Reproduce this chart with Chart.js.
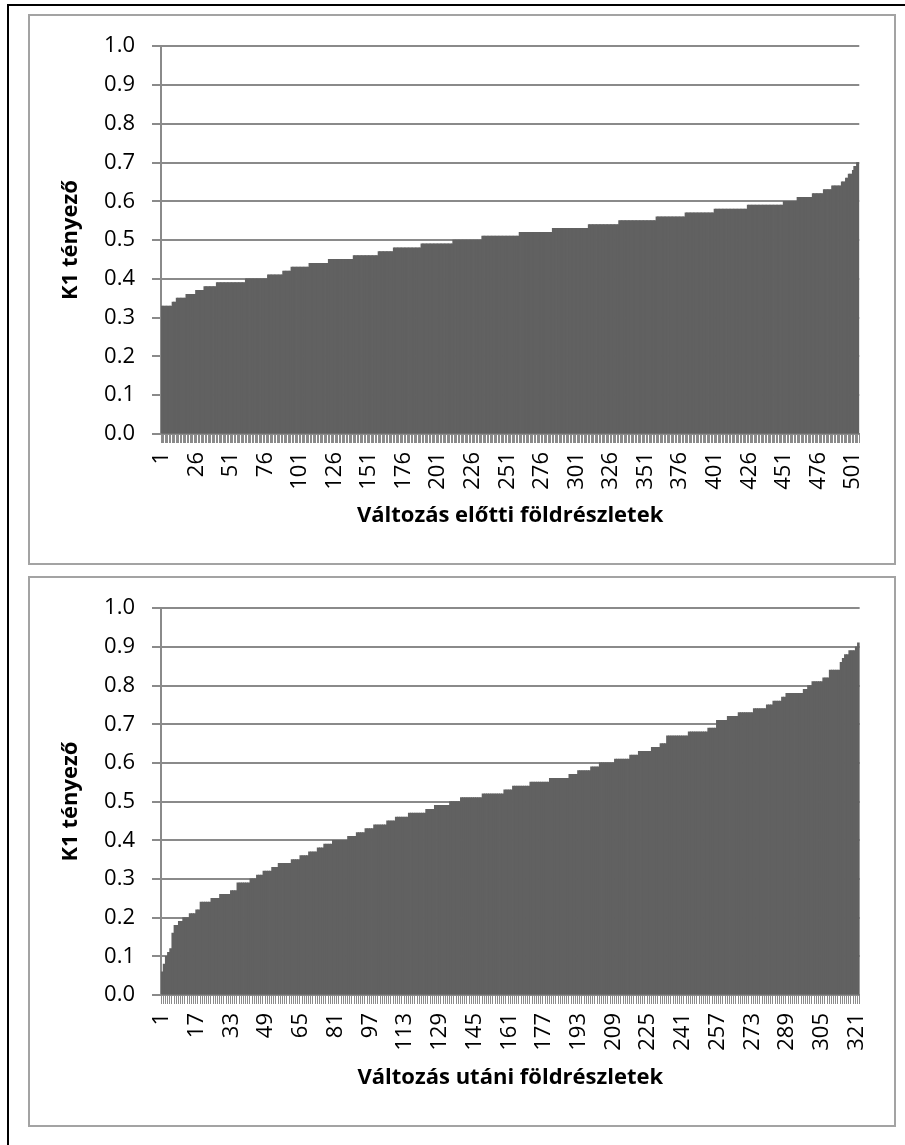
<!DOCTYPE html>
<html><head><meta charset="utf-8">
<script src="https://cdn.jsdelivr.net/npm/chart.js@4/dist/chart.umd.min.js"></script>
<style>
html,body{margin:0;padding:0;background:#fff;width:905px;height:1145px;overflow:hidden;position:relative}
#frame{position:absolute;left:7px;top:4px;width:905px;height:1145px;border:2px solid #000;box-sizing:border-box}
.box{position:absolute;left:28px;width:868px;height:551px;border:2px solid #a3a3a3;box-sizing:border-box;background:#fff}
.box canvas{position:absolute;left:0;top:0}
</style></head><body>
<div id="frame"></div>
<div class="box" style="top:14px"><canvas id="c1" width="864" height="547"></canvas></div>
<div class="box" style="top:576px"><canvas id="c2" width="864" height="547"></canvas></div>
<script>
// Top chart: sorted K1 values (run-length: level -> number of parcels)
const topLevels = [0.33,0.34,0.35,0.36,0.37,0.38,0.39,0.40,0.41,0.42,0.43,0.44,0.45,0.46,0.47,0.48,0.49,0.50,0.51,0.52,0.53,0.54,0.55,0.56,0.57,0.58,0.59,0.60,0.61,0.62,0.63,0.64,0.65,0.66,0.67,0.68,0.69,0.70];
const topCounts = [8,3,7,7,6,9,21,16,11,6,13,14,18,18,11,20,23,21,27,24,26,22,27,21,21,24,26,10,11,8,6,7,3,2,3,1,2,2];
const topTickLabels = ['1','26','51','76','101','126','151','176','201','226','251','276','301','326','351','376','401','426','451','476','501'];
const topXTitle = 'Változás előtti földrészletek';

// Bottom chart
const botLevels = [0.06,0.08,0.10,0.11,0.12,0.16,0.18,0.19,0.20,0.21,0.22,0.24,0.25,0.26,0.27,0.29,0.30,0.31,0.32,0.33,0.34,0.35,0.36,0.37,0.38,0.39,0.40,0.41,0.42,0.43,0.44,0.45,0.46,0.47,0.48,0.49,0.50,0.51,0.52,0.53,0.54,0.55,0.56,0.57,0.58,0.59,0.60,0.61,0.62,0.63,0.64,0.65,0.67,0.68,0.69,0.71,0.72,0.73,0.74,0.75,0.76,0.77,0.78,0.79,0.80,0.81,0.82,0.84,0.86,0.87,0.88,0.89,0.90,0.91];
const botCounts = [1,1,1,1,1,1,2,2,3,3,2,5,4,5,3,6,3,3,4,3,6,4,4,4,3,4,7,4,4,4,6,4,6,8,4,7,5,10,10,4,8,9,9,4,6,4,7,7,4,6,4,3,10,9,4,5,5,7,6,3,4,2,8,2,2,5,3,5,1,1,2,3,1,1];
const botTickLabels = ['1','17','33','49','65','81','97','113','129','145','161','177','193','209','225','241','257','273','289','305','321'];
const botXTitle = 'Változás utáni földrészletek';

const yTitle = 'K1 tényező';
const yTickValues = [0,0.1,0.2,0.3,0.4,0.5,0.6,0.7,0.8,0.9,1.0];

function expand(levels, counts){ const out=[]; levels.forEach((v,i)=>{ for(let k=0;k<counts[i];k++) out.push(v); }); return out; }

const FONT = 'Open Sans';
const GRID = '#8a8a8a';
const BAR = '#616161';

function makeChart(id, levels, counts, tickLabels, xTitle, padTop, xHeight){
  const data = expand(levels, counts);
  const labels = data.map((_, i) => String(i + 1));
  new Chart(document.getElementById(id), {
    type: 'bar',
    data: { labels, datasets: [{ data, backgroundColor: BAR, borderWidth: 0, barPercentage: 1, categoryPercentage: 1, inflateAmount: 0.4 }] },
    options: {
      responsive: false, animation: false, devicePixelRatio: 1,
      layout: { padding: { top: padTop, right: 28, left: 0, bottom: 0 } },
      plugins: { legend: { display: false }, tooltip: { enabled: false } },
      scales: {
        x: {
          grid: { display: true, drawOnChartArea: false, drawTicks: true, tickLength: 9, color: GRID, lineWidth: 1, offset: true },
          border: { display: true, color: GRID, width: 2 },
          ticks: { autoSkip: false, minRotation: 90, maxRotation: 90, padding: 9, color: '#000',
                   font: { family: FONT, size: 22 },
                   callback: function(v){ const l = this.getLabelForValue(v); return tickLabels.includes(l) ? l : ''; } },
          title: { display: true, text: xTitle, color: '#000', font: { family: FONT, size: 22, weight: 'bold' }, padding: { top: 0, bottom: 34 } },
          afterFit: s => { s.height = xHeight; }
        },
        y: {
          min: 0, max: 1,
          afterBuildTicks: s => { s.ticks = yTickValues.map(v => ({ value: v })); },
          ticks: { padding: 17, color: '#000', font: { family: FONT, size: 22 }, callback: v => Number(v).toFixed(1) },
          grid: { color: GRID, lineWidth: 2, tickLength: 9, drawTicks: true },
          border: { display: true, color: GRID, width: 2 },
          title: { display: true, text: yTitle, color: '#000', font: { family: FONT, size: 22, weight: 'bold' }, padding: { top: 28, bottom: 0 } },
          afterFit: s => { s.width = 131; }
        }
      }
    }
  });
}

function draw(){
  makeChart('c1', topLevels, topCounts, topTickLabels, topXTitle, 28, 129);
  makeChart('c2', botLevels, botCounts, botTickLabels, botXTitle, 27, 130);
}
Promise.all([document.fonts.load('22px "Open Sans"'), document.fonts.load('bold 22px "Open Sans"')]).then(draw, draw);
</script>
</body></html>
